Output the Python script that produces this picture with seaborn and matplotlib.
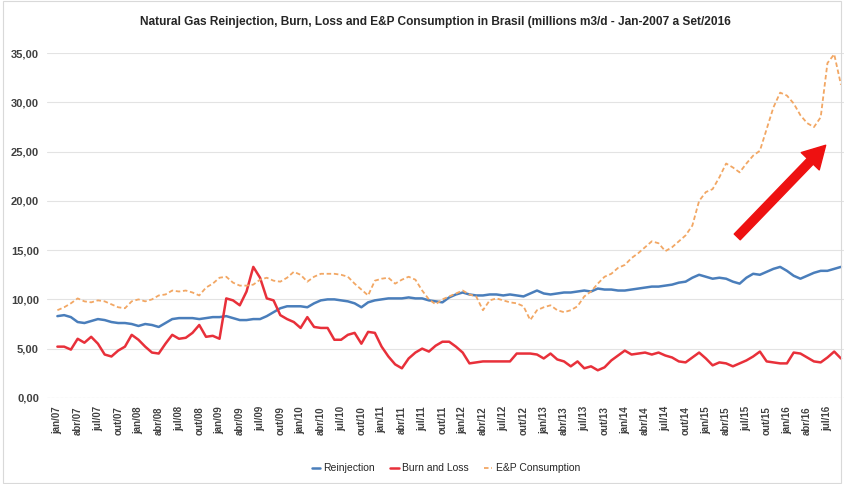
#!/usr/bin/env python3

import matplotlib.pyplot as plt
import numpy as np
import pandas as pd
import seaborn as sns

sns.set_style("white")
plt.rcParams['font.family'] = ['Liberation Sans', 'DejaVu Sans']

# monthly values, jan/2007 .. set/2016 (millions m3/d)
reinjection = [
    8.3, 8.4, 8.2, 7.7, 7.6, 7.8, 8.0, 7.9, 7.7, 7.6, 7.6, 7.5,
    7.3, 7.5, 7.4, 7.2, 7.6, 8.0, 8.1, 8.1, 8.1, 8.0, 8.1, 8.2,
    8.2, 8.3, 8.1, 7.9, 7.9, 8.0, 8.0, 8.3, 8.7, 9.1, 9.3, 9.3,
    9.3, 9.2, 9.6, 9.9, 10.0, 10.0, 9.9, 9.8, 9.6, 9.2, 9.7, 9.9,
    10.0, 10.1, 10.1, 10.1, 10.2, 10.1, 10.1, 9.9, 9.8, 9.7, 10.2, 10.5,
    10.7, 10.5, 10.4, 10.4, 10.5, 10.5, 10.4, 10.5, 10.4, 10.3, 10.6, 10.9,
    10.6, 10.5, 10.6, 10.7, 10.7, 10.8, 10.9, 10.8, 11.1, 11.0, 11.0, 10.9,
    10.9, 11.0, 11.1, 11.2, 11.3, 11.3, 11.4, 11.5, 11.7, 11.8, 12.2, 12.5,
    12.3, 12.1, 12.2, 12.1, 11.8, 11.6, 12.2, 12.6, 12.5, 12.8, 13.1, 13.3,
    12.9, 12.4, 12.1, 12.4, 12.7, 12.9, 12.9, 13.1, 13.3,
]
burn_loss = [
    5.2, 5.2, 4.9, 6.0, 5.6, 6.2, 5.5, 4.4, 4.2, 4.8, 5.2, 6.4,
    5.9, 5.2, 4.6, 4.5, 5.5, 6.4, 6.0, 6.1, 6.6, 7.4, 6.2, 6.3,
    6.0, 10.1, 9.9, 9.4, 10.8, 13.3, 12.2, 10.1, 9.9, 8.4, 8.0, 7.7,
    7.1, 8.2, 7.2, 7.1, 7.1, 5.9, 5.9, 6.4, 6.6, 5.5, 6.7, 6.6,
    5.2, 4.2, 3.4, 3.0, 4.0, 4.6, 5.0, 4.7, 5.3, 5.7, 5.7, 5.2,
    4.6, 3.5, 3.6, 3.7, 3.7, 3.7, 3.7, 3.7, 4.5, 4.5, 4.5, 4.4,
    4.0, 4.5, 3.9, 3.7, 3.2, 3.7, 3.0, 3.2, 2.8, 3.1, 3.8, 4.3,
    4.8, 4.4, 4.5, 4.6, 4.4, 4.6, 4.3, 4.1, 3.7, 3.6, 4.1, 4.6,
    4.0, 3.3, 3.6, 3.5, 3.2, 3.5, 3.8, 4.2, 4.7, 3.7, 3.6, 3.5,
    3.5, 4.6, 4.5, 4.1, 3.7, 3.6, 4.1, 4.7, 4.0,
]
ep_consumption = [
    8.9, 9.2, 9.6, 10.1, 9.8, 9.7, 9.9, 9.8, 9.5, 9.2, 9.1, 9.8,
    10.0, 9.8, 10.0, 10.4, 10.5, 10.9, 10.8, 10.9, 10.7, 10.4, 11.2, 11.6,
    12.2, 12.3, 11.7, 11.4, 11.4, 11.5, 12.0, 12.2, 11.9, 11.8, 12.2, 12.8,
    12.5, 11.8, 12.3, 12.6, 12.6, 12.6, 12.5, 12.3, 11.6, 11.0, 10.4, 11.9,
    12.1, 12.2, 11.6, 12.0, 12.3, 12.0, 10.9, 10.0, 9.5, 10.0, 10.3, 10.6,
    10.9, 10.5, 10.3, 8.9, 9.9, 10.1, 9.9, 9.7, 9.6, 9.3, 7.9, 8.9,
    9.2, 9.4, 8.9, 8.7, 8.9, 9.3, 10.3, 10.8, 11.6, 12.3, 12.6, 13.2,
    13.5, 14.2, 14.7, 15.3, 15.9, 15.7, 14.9, 15.3, 15.9, 16.5, 17.5, 20.0,
    20.9, 21.2, 22.4, 23.8, 23.4, 22.9, 23.8, 24.6, 25.1, 27.3, 29.5, 31.0,
    30.7, 29.9, 28.7, 27.9, 27.5, 28.5, 34.0, 34.9, 31.8,
]

month_names = ['jan', 'fev', 'mar', 'abr', 'mai', 'jun',
               'jul', 'ago', 'set', 'out', 'nov', 'dez']
years = list(range(2007, 2017))
months = [f"{m}/{str(y)[2:]}" for y in years for m in month_names][:len(reinjection)]

colors = ['#4a7ebb', '#e8303a', '#f2a764']

df = pd.DataFrame({
    'idx': np.arange(len(months)),
    'month': months,
    'Reinjection': reinjection,
    'Burn and Loss': burn_loss,
    'E&P Consumption': ep_consumption,
})

fig = plt.figure(figsize=(8.44, 4.84), dpi=100)
ax = fig.add_axes([0.056, 0.178, 0.944, 0.712])

sns.lineplot(ax=ax, data=df, x='idx', y='Reinjection', color=colors[0],
             linewidth=1.8, label='Reinjection')
sns.lineplot(ax=ax, data=df, x='idx', y='Burn and Loss', color=colors[1],
             linewidth=1.8, label='Burn and Loss')
sns.lineplot(ax=ax, data=df, x='idx', y='E&P Consumption', color=colors[2],
             linewidth=1.3, linestyle=(0, (2.5, 1.5)),
             label='E&P Consumption')

ax.set_ylim(0, 35)
ax.set_xlim(-1.5, len(months) - 0.55)
ax.set_yticks(np.arange(0, 36, 5))
ax.set_yticklabels([f"{v:.2f}".replace('.', ',') for v in np.arange(0, 36, 5)],
                   fontsize=8, fontweight='bold', color='#404040')
ax.set_xticks(df['idx'][::3])
ax.set_xticklabels(df['month'][::3], rotation=90, fontsize=7,
                   fontweight='bold', color='#404040')
ax.tick_params(axis='both', length=0, pad=6)
ax.set_xlabel(None)
ax.set_ylabel(None)
for s in ax.spines.values():
    s.set_visible(False)
ax.grid(axis='y', color='#e3e3e3', linewidth=0.8)
ax.axhline(0, color='#c8c8c8', linewidth=0.8, linestyle=(0, (2, 2)))

fig.text(0.516, 0.955,
         "Natural Gas Reinjection, Burn, Loss and E&P Consumption in Brasil "
         "(millions m3/d - Jan-2007 a Set/2016",
         ha='center', va='center', fontsize=8.6, fontweight='bold',
         color='#262626')

ax.annotate('', xy=(0.977, 0.733), xytext=(0.866, 0.467),
            xycoords='axes fraction', textcoords='axes fraction',
            arrowprops=dict(facecolor='#ee1111', edgecolor='#ee1111',
                            width=6, headwidth=18, headlength=16))

ax.legend(loc='center', bbox_to_anchor=(0.5, -0.204), ncol=3,
          frameon=False, fontsize=7.5, handlelength=0.8, handletextpad=0.3,
          columnspacing=1.5)

fig.patches.append(plt.Rectangle((0.003, 0.003), 0.994, 0.994,
                                 transform=fig.transFigure, fill=False,
                                 edgecolor='#d9d9d9', linewidth=0.8))

plt.savefig("out.png", dpi=100)
